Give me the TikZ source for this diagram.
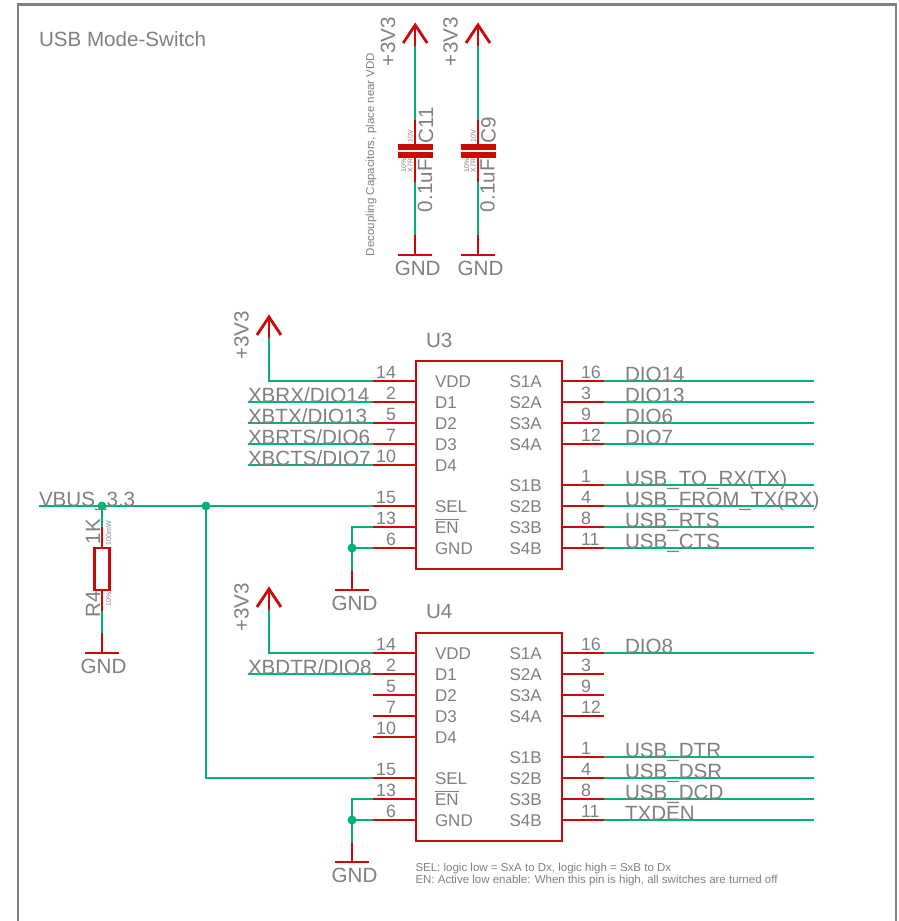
\documentclass[tikz,border=0pt]{standalone}
\usepackage{fontspec}
\setmainfont{Liberation Sans}
\definecolor{sred}{RGB}{204,8,8}
\definecolor{sgreen}{RGB}{0,178,120}
\definecolor{stxt}{RGB}{128,128,128}
\newcommand{\fs}[1]{\fontsize{#1}{#1}\selectfont}
\tikzset{
  wire/.style={draw=sgreen,line width=1.5pt},
  pinline/.style={draw=sred,line width=1.5pt},
  heavy/.style={draw=sred,line width=2.8pt},
  plate/.style={draw=sred,line width=5.4pt},
  frameline/.style={draw=stxt,line width=2.6pt},
  lbl/.style={inner sep=0pt,outer sep=0pt,text=stxt,anchor=base west},
  netlbl/.style={lbl,font=\fs{20.6}},
  numlbl/.style={lbl,font=\fs{17.8}},
  numlblr/.style={numlbl,anchor=base east},
  pinlbl/.style={lbl,font=\fs{17}},
  tinyv/.style={lbl,font=\fs{7},rotate=90},
  bigv/.style={netlbl,rotate=90},
  notelbl/.style={lbl,font=\fs{11.5}},
  chipbox/.style={rectangle,draw=sred,line width=2.8pt,minimum width=146pt,minimum height=208pt,inner sep=0pt,outer sep=0pt},
  jdot/.style={circle,fill=sgreen,inner sep=0pt,minimum size=9pt},
}
% chip pins: chip, number, y
\newcommand{\lpin}[3]{%
  \coordinate (#1-#2o) at (373,#3);
  \coordinate (#1-#2i) at (416,#3);
  \draw[pinline] (#1-#2o) -- (#1-#2i);
  \node[numlblr] (#1-#2n) at (396,#3-3) {#2};}
\newcommand{\rpin}[3]{%
  \coordinate (#1-#2i) at (562,#3);
  \coordinate (#1-#2o) at (604,#3);
  \draw[pinline] (#1-#2i) -- (#1-#2o);
  \node[numlbl] (#1-#2n) at (581,#3-3) {#2};}
% nets: chip, number, y, text
\newcommand{\lnet}[4]{%
  \coordinate (#1-#2w) at (248,#3);
  \draw[wire] (#1-#2w) -- (#1-#2o);
  \node[netlbl] (#1-#2t) at (248,#3) {#4};}
\newcommand{\rnet}[4]{%
  \coordinate (#1-#2w) at (814,#3);
  \draw[wire] (#1-#2o) -- (#1-#2w);
  \node[netlbl] (#1-#2t) at (625,#3) {#4};}
% supply arrow: id, x, ytip
\newcommand{\supply}[3]{%
  \coordinate (#1tip) at (#2,#3);
  \coordinate (#1neck) at (#2,#3+21);
  \draw[pinline] (#1tip) -- (#1neck);
  \draw[heavy,line join=miter] (#2-12,#3+18) -- (#1tip) -- (#2+12,#3+18);}
% ground: id, x, ybar, text centre
\newcommand{\gnd}[4]{%
  \coordinate (#1bar) at (#2,#3);
  \coordinate (#1top) at (#2,#3-20);
  \draw[pinline] (#1top) -- (#1bar);
  \draw[heavy] (#2-17,#3) -- (#2+17,#3);
  \node[netlbl,anchor=base] (#1txt) at (#4,#3+20.5) {GND};}
% capacitor: id, x, rotated text baseline x, name
\newcommand{\capac}[4]{%
  \supply{#1s}{#2}{25}
  \gnd{#1g}{#2}{255}{#2+2.5}
  \coordinate (#1a) at (#2,120);
  \coordinate (#1b) at (#2,182);
  \draw[wire] (#1sneck) -- (#1a);
  \draw[wire] (#1b) -- (#1gtop);
  \draw[pinline] (#1a) -- (#2,147);
  \draw[pinline] (#2,155) -- (#1b);
  \draw[plate] (#2-17.5,147) -- (#2+17.5,147);
  \draw[plate] (#2-17.5,155) -- (#2+17.5,155);
  \node[bigv] (#1name) at (#3,143) {#4};
  \node[bigv] (#1val) at (#3-1,212) {0.1uF};
  \node[tinyv] (#1v) at (#2-2.5,142) {10V};
  \node[tinyv] (#1x) at (#2-2.5,172.5) {X7R};
  \node[tinyv] (#1p) at (#2-9,172.5) {10\%};}
\begin{document}
\begin{tikzpicture}[x=1pt,y=-1pt]
\useasboundingbox (0,0) rectangle (899,921);
\fill[white] (0,0) rectangle (899,921);
\coordinate (fbl) at (18,921);
\coordinate (ftl) at (18,4.5);
\coordinate (ftr) at (896,4.5);
\coordinate (fbr) at (896,921);
\draw[frameline,line join=miter] (fbl) -- (ftl) -- (ftr) -- (fbr);
\node[lbl,font=\fs{20.6}] (title) at (39,46) {USB Mode-Switch};

% capacitors
\capac{cA}{415.2}{433}{C11}
\capac{cB}{478}{495.5}{C9}
\node[bigv] (pA) at (395,66) {+3V3};
\node[bigv] (pB) at (457.5,66) {+3V3};
\node[lbl,font=\fs{11.5},rotate=90] (dec) at (374,256) {Decoupling Capacitors, place near VDD};

% chips
\foreach \c/\d in {U3/0,U4/272}{
  \node[chipbox] (\c) at (489,465+\d) {};
  \lpin{\c}{14}{381+\d}
  \lpin{\c}{2}{402+\d}
  \lpin{\c}{5}{423+\d}
  \lpin{\c}{7}{444+\d}
  \lpin{\c}{10}{465+\d}
  \lpin{\c}{15}{506+\d}
  \lpin{\c}{13}{527+\d}
  \lpin{\c}{6}{548+\d}
  \rpin{\c}{16}{381+\d}
  \rpin{\c}{3}{402+\d}
  \rpin{\c}{9}{423+\d}
  \rpin{\c}{12}{444+\d}
  \rpin{\c}{1}{485+\d}
  \rpin{\c}{4}{506+\d}
  \rpin{\c}{8}{527+\d}
  \rpin{\c}{11}{548+\d}
  \node[pinlbl] (\c vdd) at (435,387+\d) {VDD};
  \node[pinlbl] (\c da) at (435,408+\d) {D1};
  \node[pinlbl] (\c db) at (435,429+\d) {D2};
  \node[pinlbl] (\c dc) at (435,450+\d) {D3};
  \node[pinlbl] (\c dd) at (435,471+\d) {D4};
  \node[pinlbl] (\c sel) at (435,512.5+\d) {SEL};
  \node[pinlbl] (\c en) at (435,533.5+\d) {\makebox[0pt][l]{\raisebox{13.5pt}{\rule{24pt}{1pt}}}EN};
  \node[pinlbl] (\c gnd) at (435,554.5+\d) {GND};
  \node[pinlbl] (\c sa) at (509.5,387+\d) {S1A};
  \node[pinlbl] (\c sb) at (509.5,408+\d) {S2A};
  \node[pinlbl] (\c sc) at (509.5,429+\d) {S3A};
  \node[pinlbl] (\c sd) at (509.5,450+\d) {S4A};
  \node[pinlbl] (\c se) at (509.5,491.5+\d) {S1B};
  \node[pinlbl] (\c sf) at (509.5,512.5+\d) {S2B};
  \node[pinlbl] (\c sg) at (509.5,533.5+\d) {S3B};
  \node[pinlbl] (\c sh) at (509.5,554.5+\d) {S4B};
}
\node[netlbl] (U3name) at (426,347) {U3};
\node[netlbl] (U4name) at (426,618) {U4};

% U3 nets
\lnet{U3}{2}{402}{XBRX/DIO14}
\lnet{U3}{5}{423}{XBTX/DIO13}
\lnet{U3}{7}{444}{XBRTS/DIO6}
\lnet{U3}{10}{465}{XBCTS/DIO7}
\rnet{U3}{16}{381}{DIO14}
\rnet{U3}{3}{402}{DIO13}
\rnet{U3}{9}{423}{DIO6}
\rnet{U3}{12}{444}{DIO7}
\rnet{U3}{1}{485}{USB\_TO\_RX(TX)}
\rnet{U3}{4}{506}{USB\_FROM\_TX(RX)}
\rnet{U3}{8}{527}{USB\_RTS}
\rnet{U3}{11}{548}{USB\_CTS}

% U4 nets
\lnet{U4}{2}{674}{XBDTR/DIO8}
\rnet{U4}{16}{653}{DIO8}
\rnet{U4}{1}{757}{USB\_DTR}
\rnet{U4}{4}{778}{USB\_DSR}
\rnet{U4}{8}{799}{USB\_DCD}
\rnet{U4}{11}{820}{TXDEN}

% supplies of the chips
\supply{sU}{269}{317}
\supply{sV}{269}{589}
\node[bigv] (pU) at (248.5,359.5) {+3V3};
\node[bigv] (pV) at (248.5,631.5) {+3V3};
\draw[wire] (sUneck) |- (U3-14o);
\draw[wire] (sVneck) |- (U4-14o);

% grounds of the chips
\gnd{gU}{352}{590}{354.5}
\gnd{gV}{352}{862}{354.5}
\node[jdot] (jU) at (352,548) {};
\node[jdot] (jV) at (352,820) {};
\draw[wire] (U3-13o) -| (jU.center);
\draw[wire] (jU.center) -- (U3-6o);
\draw[wire] (jU.center) -- (gUtop);
\draw[wire] (U4-13o) -| (jV.center);
\draw[wire] (jV.center) -- (U4-6o);
\draw[wire] (jV.center) -- (gVtop);

% VBUS
\coordinate (vbusw) at (39,506);
\node[jdot] (jR) at (102,506) {};
\node[jdot] (jS) at (206,506) {};
\draw[wire] (vbusw) -- (U3-15o);
\draw[wire] (jS.center) |- (U4-15o);
\node[netlbl] (vbus) at (39,506) {VBUS\_3.3};

% resistor
\node[rectangle,draw=sred,line width=2.6pt,minimum width=15pt,minimum height=42pt,inner sep=0pt,outer sep=0pt] (R4) at (102,569) {};
\gnd{gR}{102}{653}{103.5}
\coordinate (ra) at (102,527);
\draw[wire] (jR.center) -- (ra);
\draw[pinline] (ra) -- (R4.north);
\coordinate (rb) at (102,611);
\draw[pinline] (R4.south) -- (rb);
\draw[wire] (rb) -- (gRtop);
\node[bigv] (Rval) at (100,544) {1K};
\node[bigv] (Rname) at (100,617) {R4};
\node[tinyv] (Rw) at (111,545) {100mW};
\node[tinyv] (Rt) at (111,606) {10\%};

% notes
\node[notelbl] (noteA) at (415.5,871) {SEL: logic low = SxA to Dx, logic high = SxB to Dx};
\node[notelbl] (noteB) at (415.5,883) {EN: Active low enable: When this pin is high, all switches are turned off};
\end{tikzpicture}
\end{document}
